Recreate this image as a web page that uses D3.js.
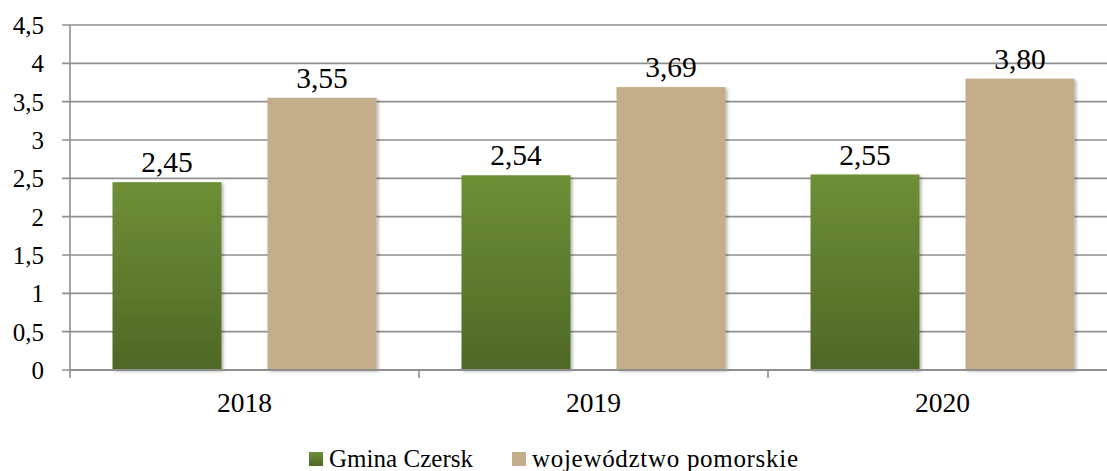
<!DOCTYPE html>
<html>
<head>
<meta charset="utf-8">
<script src="https://cdn.jsdelivr.net/npm/d3@7"></script>
<style>
  html, body { margin: 0; padding: 0; background: #fff; }
  svg { display: block; }
  svg text { font-family: "Liberation Serif", "DejaVu Serif", serif; }
</style>
</head>
<body>
<svg id="chart" width="1107" height="471"></svg>
<script>
// Average values per year for the municipality and the voivodeship
const years = ["2018", "2019", "2020"];
const seriesNames = ["Gmina Czersk", "województwo pomorskie"];
const gminaCzersk = [2.45, 2.54, 2.55];
const wojPomorskie = [3.55, 3.69, 3.80];
const yTicks = [0, 0.5, 1, 1.5, 2, 2.5, 3, 3.5, 4, 4.5];

const svg = d3.select("#chart");
const W = 1107, H = 471;
const plotLeft = 70, plotRight = 1117, plotTop = 25, plotBottom = 370;

const fmt = v => String(v).replace(".", ",");
const fmt2 = v => v.toFixed(2).replace(".", ",");

const x = d3.scaleBand().domain(years).range([plotLeft, plotRight]).paddingInner(0).paddingOuter(0);
const y = d3.scaleLinear().domain([0, 4.5]).range([plotBottom, plotTop]);

// bar placement inside each year band
const barW = 109, barGap = 46;
const groupW = barW * 2 + barGap;
const series = [
  { name: seriesNames[0], values: gminaCzersk, fill: "url(#gradGreen)", labelW: 144 },
  { name: seriesNames[1], values: wojPomorskie, fill: "#c4ad8b", labelW: 266 }
];

const defs = svg.append("defs");
const g = defs.append("linearGradient").attr("id", "gradGreen")
  .attr("x1", 0).attr("y1", 0).attr("x2", 0).attr("y2", 1);
g.append("stop").attr("offset", "0%").attr("stop-color", "#6e8f36");
g.append("stop").attr("offset", "100%").attr("stop-color", "#4e6826");

const shadow = defs.append("filter").attr("id", "barShadow")
  .attr("x", "-10%").attr("y", "-10%").attr("width", "130%").attr("height", "130%");
shadow.append("feDropShadow").attr("dx", 2).attr("dy", 1.5).attr("stdDeviation", 1.8)
  .attr("flood-color", "#000").attr("flood-opacity", 0.28);

// horizontal gridlines with left tick stubs
svg.append("g").selectAll("line").data(yTicks).join("line")
  .attr("x1", plotLeft - 8).attr("x2", W)
  .attr("y1", d => y(d)).attr("y2", d => y(d))
  .attr("stroke", "#8f8f8f").attr("stroke-width", 1.6);

// y tick labels
svg.append("g").selectAll("text").data(yTicks).join("text")
  .attr("x", 44).attr("y", d => y(d) + 9)
  .attr("text-anchor", "end")
  .attr("font-size", 25).attr("fill", "#000")
  .text(d => fmt(d));

// bars and value labels
series.forEach((s, si) => {
  const bx = d => x(d) + (x.bandwidth() - groupW) / 2 + si * (barW + barGap);
  svg.append("g").selectAll("rect").data(years).join("rect")
    .attr("x", d => bx(d))
    .attr("y", (d, i) => y(s.values[i]))
    .attr("width", barW)
    .attr("height", (d, i) => plotBottom - y(s.values[i]))
    .attr("fill", s.fill)
    .attr("filter", "url(#barShadow)");
  svg.append("g").selectAll("text").data(years).join("text")
    .attr("x", d => bx(d) + barW / 2)
    .attr("y", (d, i) => y(s.values[i]) - 10)
    .attr("text-anchor", "middle")
    .attr("font-size", 29.5).attr("fill", "#000")
    .text((d, i) => fmt2(s.values[i]));
});

// axis lines
svg.append("line").attr("x1", plotLeft).attr("x2", plotLeft).attr("y1", plotTop).attr("y2", plotBottom + 8)
  .attr("stroke", "#8f8f8f").attr("stroke-width", 1.6);
svg.append("line").attr("x1", plotLeft).attr("x2", W).attr("y1", plotBottom).attr("y2", plotBottom)
  .attr("stroke", "#8f8f8f").attr("stroke-width", 2);
// x ticks at band edges
svg.append("g").selectAll("line").data(years.slice(1)).join("line")
  .attr("x1", d => x(d)).attr("x2", d => x(d))
  .attr("y1", plotBottom).attr("y2", plotBottom + 8)
  .attr("stroke", "#8f8f8f").attr("stroke-width", 1.6);

// x labels
svg.append("g").selectAll("text").data(years).join("text")
  .attr("x", d => x(d) + x.bandwidth() / 2)
  .attr("y", 412)
  .attr("text-anchor", "middle")
  .attr("font-size", 27.5).attr("fill", "#000")
  .text(d => d);

// legend
const legendPos = [309, 512];
const lg = svg.append("g").selectAll("g").data(series).join("g")
  .attr("transform", (d, i) => `translate(${legendPos[i]},0)`);
lg.append("rect").attr("x", 0).attr("y", 452).attr("width", 14).attr("height", 14)
  .attr("fill", d => d.fill);
lg.append("text").attr("x", 20).attr("y", 467)
  .attr("font-size", 25).attr("fill", "#000")
  .attr("textLength", d => d.labelW).attr("lengthAdjust", "spacing")
  .text(d => d.name);
</script>
</body>
</html>
